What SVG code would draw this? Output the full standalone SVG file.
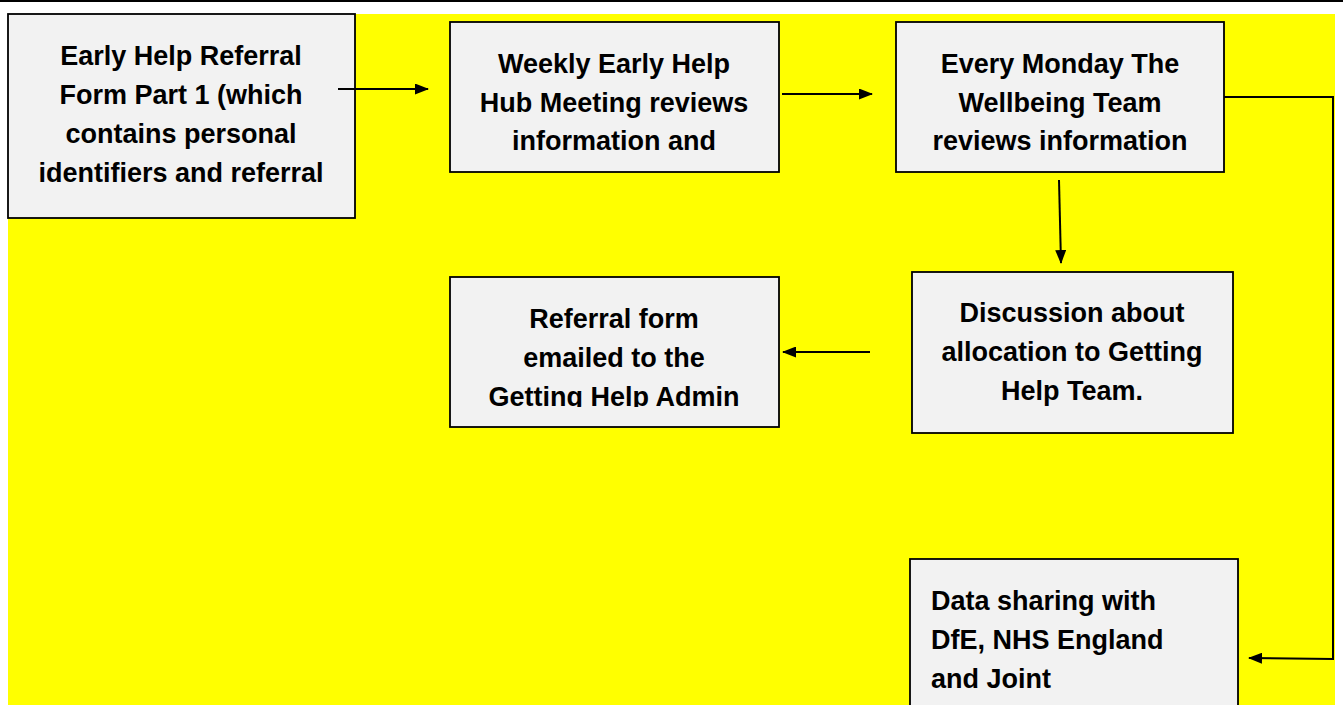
<svg xmlns="http://www.w3.org/2000/svg" width="1343" height="705" viewBox="0 0 1343 705">
<style>
.box{fill:#f2f2f2;stroke:#000;stroke-width:1.8}
.t{font-family:"Liberation Sans",Arial,sans-serif;font-weight:bold;font-size:27px;fill:#000}
.c{text-anchor:middle}
.con{fill:none;stroke:#000;stroke-width:2}
</style>
<defs>
<marker id="ah" markerWidth="14" markerHeight="11" refX="13" refY="5.5" orient="auto" markerUnits="userSpaceOnUse">
<path d="M0,0 L14,5.5 L0,11 Z" fill="#000"/>
</marker>
<clipPath id="clip4"><rect x="450" y="277" width="329" height="130"/></clipPath>
<clipPath id="clip6"><rect x="910" y="559" width="328" height="146"/></clipPath>
</defs>
<rect x="0" y="0" width="1343" height="705" fill="#fff"/>
<rect x="8" y="14" width="1327" height="691" fill="#ffff00"/>
<line x1="0" y1="1" x2="1343" y2="1" stroke="#000" stroke-width="2"/>
<g id="n1">
<rect class="box" x="8" y="14" width="347" height="204"/>
<text class="t c" x="181" y="65">Early Help Referral</text>
<text class="t c" x="181" y="104">Form Part 1 (which</text>
<text class="t c" x="181" y="143">contains personal</text>
<text class="t c" x="181" y="182">identifiers and referral</text>
</g>
<g id="n2">
<rect class="box" x="450" y="22" width="329" height="150"/>
<text class="t c" x="614" y="73">Weekly Early Help</text>
<text class="t c" x="614" y="112">Hub Meeting reviews</text>
<text class="t c" x="614" y="150">information and</text>
</g>
<g id="n3">
<rect class="box" x="896" y="22" width="328" height="150"/>
<text class="t c" x="1060" y="73">Every Monday The</text>
<text class="t c" x="1060" y="112">Wellbeing Team</text>
<text class="t c" x="1060" y="150">reviews information</text>
</g>
<g id="n4">
<rect class="box" x="450" y="277" width="329" height="150"/>
<g clip-path="url(#clip4)">
<text class="t c" x="614" y="328">Referral form</text>
<text class="t c" x="614" y="367">emailed to the</text>
<text class="t c" x="614" y="406">Getting Help Admin</text>
</g>
</g>
<g id="n5">
<rect class="box" x="912" y="272" width="321" height="161"/>
<text class="t c" x="1072" y="322">Discussion about</text>
<text class="t c" x="1072" y="361">allocation to Getting</text>
<text class="t c" x="1072" y="400">Help Team.</text>
</g>
<g id="n6">
<rect class="box" x="910" y="559" width="328" height="160"/>
<g clip-path="url(#clip6)">
<text class="t" x="931" y="610">Data sharing with</text>
<text class="t" x="931" y="649">DfE, NHS England</text>
<text class="t" x="931" y="688">and Joint</text>
</g>
</g>
<g id="connectors">
<line class="con" x1="338" y1="89" x2="428" y2="89" marker-end="url(#ah)"/>
<line class="con" x1="782" y1="94" x2="872" y2="94" marker-end="url(#ah)"/>
<line class="con" x1="1059" y1="180" x2="1061" y2="263" marker-end="url(#ah)"/>
<line class="con" x1="870" y1="352" x2="783" y2="352" marker-end="url(#ah)"/>
<polyline class="con" points="1224,97 1333,97 1333,659 1249,658" marker-end="url(#ah)"/>
</g>
</svg>
